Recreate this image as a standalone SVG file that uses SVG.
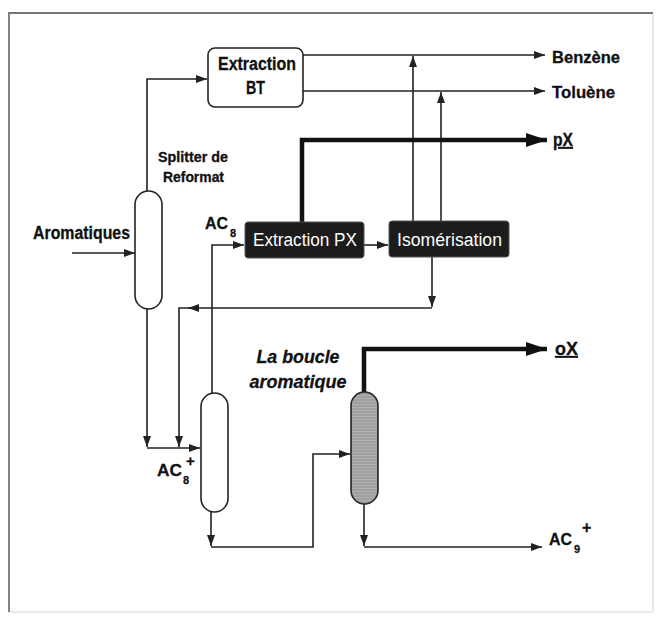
<svg xmlns="http://www.w3.org/2000/svg" width="657" height="618" viewBox="0 0 657 618">
<style>
.ln{fill:none;stroke:#222;stroke-width:1.6}
.th{fill:none;stroke:#111;stroke-width:4.5}
.t{font-family:"Liberation Sans",Arial,sans-serif;font-weight:bold;fill:#111;stroke:#111;stroke-width:0.3}
.w{font-family:"Liberation Sans",Arial,sans-serif;fill:#fff}
.col{fill:#fff;stroke:#222;stroke-width:1.6}
.dark{fill:#1c1c1c;stroke:#555;stroke-width:1}
</style>
<defs>
<marker id="a" markerUnits="userSpaceOnUse" markerWidth="12" markerHeight="10" refX="11" refY="4" orient="auto">
<path d="M0,0 L11,4 L0,8 Z" fill="#222"/>
</marker>
<marker id="A" markerUnits="userSpaceOnUse" markerWidth="22" markerHeight="16" refX="21" refY="7" orient="auto">
<path d="M0,0 L21,7 L0,14 Z" fill="#111"/>
</marker>
<pattern id="hatch" width="6" height="3" patternUnits="userSpaceOnUse">
<rect width="6" height="3" fill="#b0b0b0"/>
<line x1="0" y1="1" x2="6" y2="1" stroke="#858585" stroke-width="0.8"/>
</pattern>
</defs>
<rect width="657" height="618" fill="#fff"/>
<g id="frame">
<path d="M653,13 V612 H9" fill="none" stroke="#e2e2e2" stroke-width="1.5"/>
<path d="M9,612 V13 H653" fill="none" stroke="#777" stroke-width="1.8"/>
</g>
<g id="connectors">
<path class="ln" d="M147,191 V79 H207" marker-end="url(#a)"/>
<path class="ln" d="M303,55 H545" marker-end="url(#a)"/>
<path class="ln" d="M303,91 H545" marker-end="url(#a)"/>
<path class="ln" d="M413,221 V56" marker-end="url(#a)"/>
<path class="ln" d="M441,221 V92" marker-end="url(#a)"/>
<path class="th" d="M302,222 V140 H547" marker-end="url(#A)"/>
<path class="ln" d="M72,253 H135" marker-end="url(#a)"/>
<path class="ln" d="M364,245 H388" marker-end="url(#a)"/>
<path class="ln" d="M212,393 V245 H244" marker-end="url(#a)"/>
<path class="ln" d="M432,257 V307" marker-end="url(#a)"/>
<path class="ln" d="M432,308 H188" marker-end="url(#a)"/>
<path class="ln" d="M190,308 H179 V447" marker-end="url(#a)"/>
<path class="ln" d="M147,309 V447" marker-end="url(#a)"/>
<path class="ln" d="M147,448 H200" marker-end="url(#a)"/>
<path class="ln" d="M211,512 V546" marker-end="url(#a)"/>
<path class="ln" d="M211,547 H313 V454 H350" marker-end="url(#a)"/>
<path class="th" d="M364,392 V349 H547" marker-end="url(#A)"/>
<path class="ln" d="M364,504 V546" marker-end="url(#a)"/>
<path class="ln" d="M364,547 H542" marker-end="url(#a)"/>
</g>
<g id="extraction-bt">
<rect x="208" y="48" width="95" height="59" rx="7" fill="#fff" stroke="#222" stroke-width="1.6"/>
<text class="t" x="218" y="70" font-size="18" textLength="78" lengthAdjust="spacingAndGlyphs">Extraction</text>
<text class="t" x="246" y="94" font-size="18" textLength="19" lengthAdjust="spacingAndGlyphs">BT</text>
</g>
<g id="splitter">
<rect class="col" x="135" y="191" width="27" height="118" rx="13.5"/>
<text class="t" x="158" y="162" font-size="14" textLength="70" lengthAdjust="spacingAndGlyphs">Splitter de</text>
<text class="t" x="163" y="182" font-size="14" textLength="61" lengthAdjust="spacingAndGlyphs">Reformat</text>
</g>
<g id="aromatiques">
<text class="t" x="33" y="239" font-size="18" textLength="97" lengthAdjust="spacingAndGlyphs">Aromatiques</text>
</g>
<g id="ac8">
<text class="t" x="205" y="229" font-size="17" textLength="23" lengthAdjust="spacingAndGlyphs">AC</text>
<text class="t" x="230" y="237" font-size="11">8</text>
</g>
<g id="extraction-px">
<rect class="dark" x="245" y="222" width="119" height="36" rx="3"/>
<text class="w" x="253" y="246" font-size="18" textLength="104" lengthAdjust="spacingAndGlyphs">Extraction PX</text>
</g>
<g id="isomerisation">
<rect class="dark" x="389" y="221" width="120" height="36" rx="3"/>
<text class="w" x="397" y="246" font-size="18" textLength="105" lengthAdjust="spacingAndGlyphs">Isomérisation</text>
</g>
<g id="outputs">
<text class="t" x="552" y="63" font-size="17" textLength="68" lengthAdjust="spacingAndGlyphs">Benzène</text>
<text class="t" x="552" y="98" font-size="17" textLength="63" lengthAdjust="spacingAndGlyphs">Toluène</text>
<text class="t" x="553" y="146" font-size="18" text-decoration="underline" textLength="20" lengthAdjust="spacingAndGlyphs">pX</text>
<text class="t" x="555" y="355" font-size="18" text-decoration="underline" textLength="23" lengthAdjust="spacingAndGlyphs">oX</text>
</g>
<g id="column2">
<rect class="col" x="201" y="393" width="27" height="119" rx="13.5"/>
<text class="t" x="157" y="476" font-size="17" textLength="25" lengthAdjust="spacingAndGlyphs">AC</text>
<text class="t" x="183" y="484" font-size="11">8</text>
<text class="t" x="186" y="466" font-size="15">+</text>
</g>
<g id="boucle">
<text class="t" x="298" y="363" font-size="19" font-style="italic" text-anchor="middle" textLength="83" lengthAdjust="spacingAndGlyphs">La boucle</text>
<text class="t" x="298" y="388" font-size="19" font-style="italic" text-anchor="middle" textLength="97" lengthAdjust="spacingAndGlyphs">aromatique</text>
</g>
<g id="column3">
<rect x="351" y="392" width="27" height="112" rx="13.5" fill="url(#hatch)" stroke="#222" stroke-width="1.6"/>
</g>
<g id="ac9">
<text class="t" x="549" y="545" font-size="17" textLength="23" lengthAdjust="spacingAndGlyphs">AC</text>
<text class="t" x="574" y="553" font-size="11">9</text>
<text class="t" x="582" y="533" font-size="16">+</text>
</g>
</svg>
